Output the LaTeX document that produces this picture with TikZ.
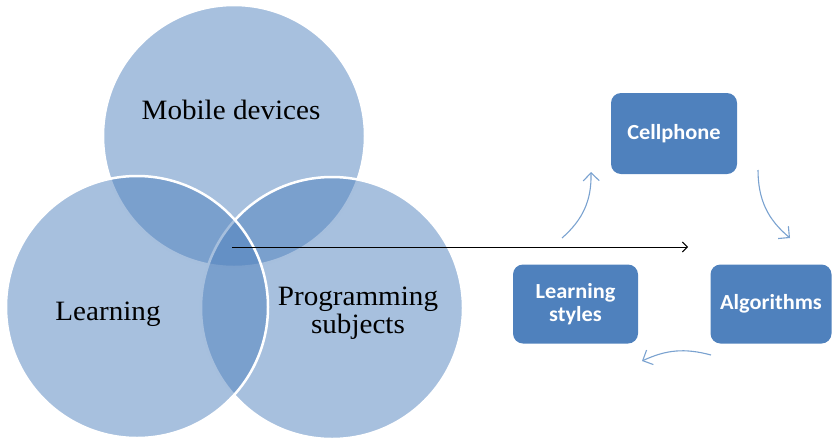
\documentclass[tikz,border=0pt]{standalone}
\usepackage{fontspec}
\setmainfont{Liberation Serif}[FakeStretch=1.04]
\newfontfamily\boxfont{Carlito}[FakeStretch=1.04]
\usetikzlibrary{arrows.meta}
\definecolor{venn}{RGB}{79,129,189}
\definecolor{boxblue}{RGB}{79,129,189}
\definecolor{arcblue}{RGB}{122,162,208}
\begin{document}
\begin{tikzpicture}[x=1pt,y=-1pt,
  venncirc/.style={circle, minimum size=262pt, inner sep=0pt, fill=venn, fill opacity=0.5, draw=white, draw opacity=1, line width=2.5pt},
  venntext/.style={font=\fontsize{28}{28}\selectfont, align=center, inner sep=0pt, text=black},
  cyclebox/.style={fill=boxblue, draw=none, rounded corners=10pt, minimum height=79pt, text=white, font=\boxfont\bfseries\fontsize{21.5}{23}\selectfont, align=center, inner sep=0pt},
  cyclearrow/.style={draw=arcblue, line width=1.1pt, -{Straight Barb[length=8pt,width=16pt]}},
  mainarrow/.style={draw=black, line width=1pt, -{Straight Barb[length=5pt,width=10pt]}}]
\useasboundingbox (0,0) rectangle (832,437);
% Venn circles
\node[venncirc] (mobc) at (234,136) {};
\node[venncirc] (progc) at (332,308) {};
\node[venncirc] (learnc) at (137,307) {};
% texts
\node[venntext] (mob) at (231,110) {Mobile devices};
\node[venntext] (learn) at (108,314) {Learning};
\node[venntext] (prog) at (358,313) {Programming\\subjects};
% main arrow
\coordinate (mid) at (232,247);
\coordinate (tip) at (688,247);
\draw[mainarrow] (mid) -- (tip);
% cycle boxes
\node[cyclebox, minimum width=126pt, minimum height=81pt] (cell) at (674,133.5) {Cellphone};
\node[cyclebox, minimum width=125pt] (styles) at (575.5,304) {Learning\\styles};
\node[cyclebox, minimum width=121pt] (algo) at (771,304) {Algorithms};
% cycle arrows
\coordinate (a1s) at (562,238);
\coordinate (a1e) at (591,172);
\coordinate (a2s) at (758,170);
\coordinate (a2e) at (790,238);
\coordinate (a3s) at (711,355);
\coordinate (a3e) at (642,361);
\draw[cyclearrow] (a1s) to[bend right=25] (a1e);
\draw[cyclearrow] (a2s) to[bend right=25] (a2e);
\draw[cyclearrow] (a3s) to[bend right=20] (a3e);
\end{tikzpicture}
\end{document}
